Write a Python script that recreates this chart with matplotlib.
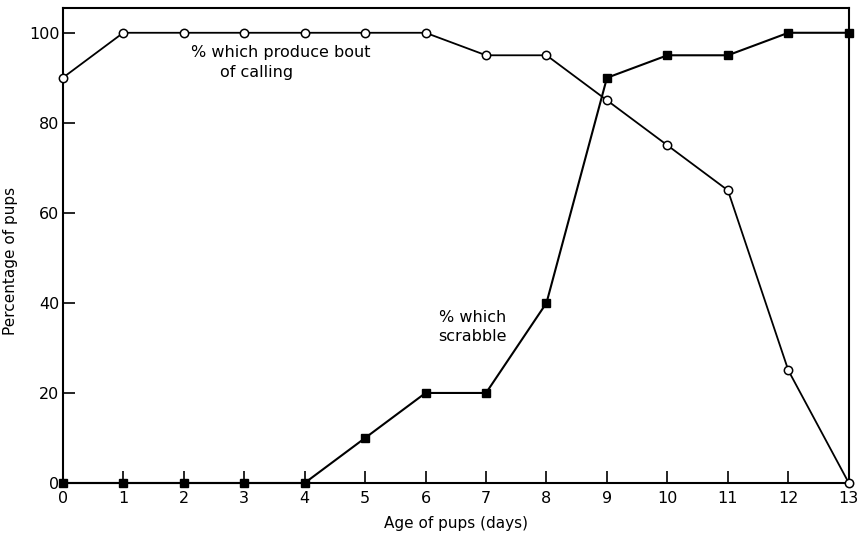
import matplotlib
matplotlib.use("Agg")
import matplotlib.pyplot as plt

days = list(range(14))
calling = [90, 100, 100, 100, 100, 100, 100, 95, 95, 85, 75, 65, 25, 0]
scrabble = [0, 0, 0, 0, 0, 10, 20, 20, 40, 90, 95, 95, 100, 100]
y_ticks = [0, 20, 40, 60, 80, 100]

plt.rcParams['font.family'] = ['DejaVu Sans']

fig = plt.figure(figsize=(8.6, 5.34), dpi=100)
ax = fig.add_axes([0.073, 0.0955, 0.914, 0.8895])

ax.plot(days, scrabble, color='black', lw=1.5, marker='s', ms=5.5,
        mfc='black', mec='black', zorder=3, clip_on=False)
ax.plot(days, calling, color='black', lw=1.3, marker='o', ms=6,
        mfc='white', mec='black', mew=1.1, zorder=4, clip_on=False)

ax.set_xlim(0, 13)
ax.set_ylim(0, 105.5)
ax.set_xticks(days)
ax.set_yticks(y_ticks)
ax.tick_params(direction='in', length=8.5, width=1.2, labelsize=11.5)
ax.tick_params(axis='x', pad=6)
ax.tick_params(axis='y', pad=2.5)
for s in ax.spines.values():
    s.set_linewidth(1.5)

ax.set_xlabel('Age of pups (days)', fontsize=11)
ax.xaxis.set_label_coords(0.5, -0.07)
ax.set_ylabel('Percentage of pups', fontsize=11)
ax.yaxis.set_label_coords(-0.057, 0.467)

ax.text(2.12, 95.6, '% which produce bout', fontsize=11.5,
        ha='left', va='center')
ax.text(2.60, 91.1, 'of calling', fontsize=11.5,
        ha='left', va='center')
ax.text(6.77, 34.6, '% which\nscrabble', fontsize=11.5,
        ha='center', va='center', linespacing=1.3)

fig.savefig('out.png', dpi=100)
